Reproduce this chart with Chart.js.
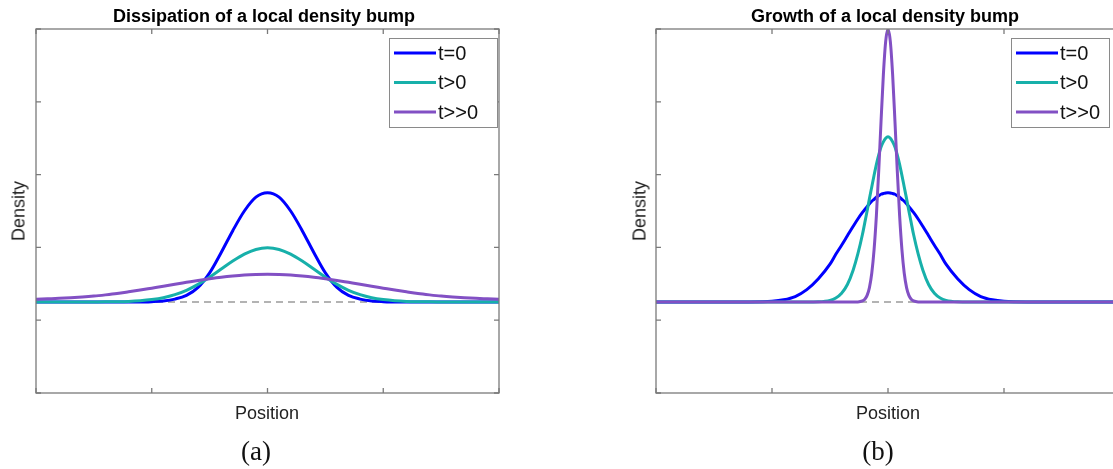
<!DOCTYPE html>
<html>
<head>
<meta charset="utf-8">
<script src="https://cdn.jsdelivr.net/npm/chart.js@4.4.1/dist/chart.umd.min.js"></script>
<style>
    html, body { margin: 0; padding: 0; background: #fff; overflow: hidden; }
    body { width: 1113px; height: 469px; position: relative; font-family: "Liberation Sans", Arial, sans-serif; }
    canvas { position: absolute; top: 0; }
    .lbl { position: absolute; transform: translate(-50%, -50%); white-space: nowrap; color: #222; }
    .title { font-weight: bold; font-size: 18px; color: #000; }
    .axis { font-size: 18px; }
    .ylab { transform: translate(-50%, -50%) rotate(-90deg); }
    .cap { font-family: "Liberation Serif", "DejaVu Serif", serif; font-size: 27px; color: #111; }
</style>
</head>
<body>
<canvas id="chartA" width="540" height="469" style="left:0px"></canvas>
<canvas id="chartB" width="520" height="469" style="left:620px"></canvas>

<div class="lbl title" style="left:264px; top:16px">Dissipation of a local density bump</div>
<div class="lbl title" style="left:885px; top:16px">Growth of a local density bump</div>
<div class="lbl axis ylab" style="left:19px; top:211px">Density</div>
<div class="lbl axis ylab" style="left:640px; top:211px">Density</div>
<div class="lbl axis" style="left:267px; top:413px">Position</div>
<div class="lbl axis" style="left:888px; top:413px">Position</div>
<div class="lbl cap" style="left:256px; top:451px">(a)</div>
<div class="lbl cap" style="left:878px; top:451px">(b)</div>

<script>
// series labels and colours
var seriesLabels = ["t=0", "t>0", "t>>0"];
var seriesColors = ["#0000ff", "#17b0aa", "#8250c4"];
var baselineLevel = 1.25;

// axis ticks (no tick labels in the original)
var xTicks = [-2, -1, 0, 1, 2];
var yTicks = [0, 1, 2, 3, 4, 5];

// (a) dissipation - positions
var posA = [-2.0, -1.9, -1.8, -1.7, -1.6, -1.5, -1.4, -1.3, -1.2, -1.1,
            -1.0, -0.9, -0.8, -0.7, -0.6, -0.5, -0.4, -0.3, -0.2, -0.1,
            0,
            0.1, 0.2, 0.3, 0.4, 0.5, 0.6, 0.7, 0.8, 0.9, 1.0,
            1.1, 1.2, 1.3, 1.4, 1.5, 1.6, 1.7, 1.8, 1.9, 2.0];
var blueA = [1.25, 1.25, 1.25, 1.25, 1.25, 1.25, 1.25, 1.25, 1.25, 1.25,
             1.255, 1.265, 1.29, 1.34, 1.45, 1.65, 1.93, 2.23, 2.50, 2.69,
             2.75,
             2.69, 2.50, 2.23, 1.93, 1.65, 1.45, 1.34, 1.29, 1.265, 1.255,
             1.25, 1.25, 1.25, 1.25, 1.25, 1.25, 1.25, 1.25, 1.25, 1.25];
var tealA = [1.25, 1.25, 1.25, 1.25, 1.25, 1.251, 1.252, 1.254, 1.258, 1.267,
             1.283, 1.309, 1.351, 1.411, 1.492, 1.591, 1.702, 1.812, 1.907, 1.972,
             1.995,
             1.972, 1.907, 1.812, 1.702, 1.591, 1.492, 1.411, 1.351, 1.309, 1.283,
             1.267, 1.258, 1.254, 1.252, 1.251, 1.25, 1.25, 1.25, 1.25, 1.25];
var purpleA = [1.288, 1.294, 1.30, 1.308, 1.318, 1.331, 1.348, 1.367, 1.39, 1.414,
               1.44, 1.466, 1.494, 1.52, 1.546, 1.569, 1.59, 1.607, 1.62, 1.627,
               1.63,
               1.627, 1.62, 1.607, 1.59, 1.569, 1.546, 1.52, 1.494, 1.466, 1.44,
               1.414, 1.39, 1.367, 1.348, 1.331, 1.318, 1.308, 1.30, 1.294, 1.288];

// (b) growth - positions (denser near the peak)
var posB = [-2.0, -1.6, -1.2, -1.0, -0.9, -0.8, -0.7, -0.6, -0.5, -0.45, -0.4, -0.35, -0.3,
            -0.26, -0.22, -0.2, -0.18, -0.16, -0.14, -0.12, -0.1, -0.08, -0.06, -0.04, -0.02,
            0,
            0.02, 0.04, 0.06, 0.08, 0.1, 0.12, 0.14, 0.16, 0.18, 0.2, 0.22, 0.26,
            0.3, 0.35, 0.4, 0.45, 0.5, 0.6, 0.7, 0.8, 0.9, 1.0, 1.2, 1.6, 2.0];
var blueB = [1.25, 1.25, 1.251, 1.26, 1.28, 1.325, 1.42, 1.57, 1.77, 1.905, 2.03, 2.16, 2.29,
             2.39, 2.48, 2.52, 2.56, 2.60, 2.635, 2.66, 2.69, 2.71, 2.73, 2.74, 2.748,
             2.75,
             2.748, 2.74, 2.73, 2.71, 2.69, 2.66, 2.635, 2.60, 2.56, 2.52, 2.48, 2.39,
             2.29, 2.16, 2.03, 1.905, 1.77, 1.57, 1.42, 1.325, 1.28, 1.26, 1.251, 1.25, 1.25];
var tealB = [1.25, 1.25, 1.25, 1.25, 1.25, 1.25, 1.25, 1.253, 1.273, 1.305, 1.37, 1.49, 1.69,
             1.91, 2.18, 2.34, 2.50, 2.67, 2.83, 2.99, 3.14, 3.27, 3.38, 3.45, 3.50,
             3.52,
             3.50, 3.45, 3.38, 3.27, 3.14, 2.99, 2.83, 2.67, 2.50, 2.34, 2.18, 1.91,
             1.69, 1.49, 1.37, 1.305, 1.273, 1.253, 1.25, 1.25, 1.25, 1.25, 1.25, 1.25, 1.25];
var purpleB = [1.25, 1.25, 1.25, 1.25, 1.25, 1.25, 1.25, 1.25, 1.25, 1.25, 1.25, 1.25, 1.25,
               1.251, 1.265, 1.288, 1.341, 1.448, 1.645, 1.97, 2.44, 3.05, 3.73, 4.37, 4.83,
               5.00,
               4.83, 4.37, 3.73, 3.05, 2.44, 1.97, 1.645, 1.448, 1.341, 1.288, 1.265, 1.251,
               1.25, 1.25, 1.25, 1.25, 1.25, 1.25, 1.25, 1.25, 1.25, 1.25, 1.25, 1.25, 1.25];

function toPoints(xs, ys) {
    return xs.map(function (x, i) { return { x: x, y: ys[i] }; });
}

// matlab-like box, inward ticks and boxed legend
var boxAxes = {
    id: "boxAxes",
    afterDraw: function (chart, args, opts) {
        var ctx = chart.ctx;
        var a = chart.chartArea;
        var xs = chart.scales.x, ys = chart.scales.y;
        ctx.save();
        ctx.strokeStyle = "#7a7a7a";
        ctx.lineWidth = 1.3;
        ctx.strokeRect(a.left, a.top, a.right - a.left, a.bottom - a.top);
        ctx.beginPath();
        xTicks.forEach(function (v) {
            var px = xs.getPixelForValue(v);
            ctx.moveTo(px, a.bottom); ctx.lineTo(px, a.bottom - 5);
            ctx.moveTo(px, a.top); ctx.lineTo(px, a.top + 5);
        });
        yTicks.forEach(function (v) {
            var py = ys.getPixelForValue(v);
            ctx.moveTo(a.left, py); ctx.lineTo(a.left + 5, py);
            ctx.moveTo(a.right, py); ctx.lineTo(a.right - 5, py);
        });
        ctx.stroke();

        // legend
        var bx = a.left + opts.dx, by = a.top + 9;
        ctx.fillStyle = "#fff";
        ctx.fillRect(bx, by, opts.w, 89);
        ctx.strokeStyle = "#8a8a8a";
        ctx.lineWidth = 1;
        ctx.strokeRect(bx + 0.5, by + 0.5, opts.w, 89);
        ctx.font = "20px 'Liberation Sans', Arial, sans-serif";
        ctx.textBaseline = "middle";
        chart.data.datasets.forEach(function (ds, i) {
            if (i >= seriesLabels.length) return;
            var ly = by + 15 + i * 29.5;
            ctx.strokeStyle = ds.borderColor;
            ctx.lineWidth = 3;
            ctx.beginPath();
            ctx.moveTo(bx + 5, ly); ctx.lineTo(bx + 47, ly);
            ctx.stroke();
            ctx.fillStyle = "#111";
            ctx.fillText(ds.label, bx + 49, ly + 1);
        });
        ctx.restore();
    }
};

function makeChart(id, pos, blue, teal, purple, legendOpts, padRight) {
    var datasets = [blue, teal, purple].map(function (vals, i) {
        return {
            label: seriesLabels[i],
            data: toPoints(pos, vals),
            borderColor: seriesColors[i],
            borderWidth: 3,
            pointRadius: 0,
            cubicInterpolationMode: "monotone",
            order: 3 - i,
        };
    });
    datasets.push({
        label: "baseline",
        data: [{ x: -2, y: baselineLevel }, { x: 2, y: baselineLevel }],
        borderColor: "#9a9a9a",
        borderWidth: 1.5,
        borderDash: [7, 5],
        pointRadius: 0,
        order: 10,
    });
    return new Chart(document.getElementById(id), {
        type: "line",
        data: { datasets: datasets },
        options: {
            responsive: false,
            animation: false,
            layout: { padding: { left: 36, top: 29, right: padRight, bottom: 76 } },
            scales: {
                x: { type: "linear", min: -2, max: 2, display: false },
                y: { min: 0, max: 5, display: false },
            },
            plugins: {
                legend: { display: false },
                tooltip: { enabled: false },
                boxAxes: legendOpts,
            },
        },
        plugins: [boxAxes],
    });
}

makeChart("chartA", posA, blueA, tealA, purpleA, { dx: 353, w: 108 }, 41);
makeChart("chartB", posB, blueB, tealB, purpleB, { dx: 355, w: 98 }, 20);
</script>
</body>
</html>
